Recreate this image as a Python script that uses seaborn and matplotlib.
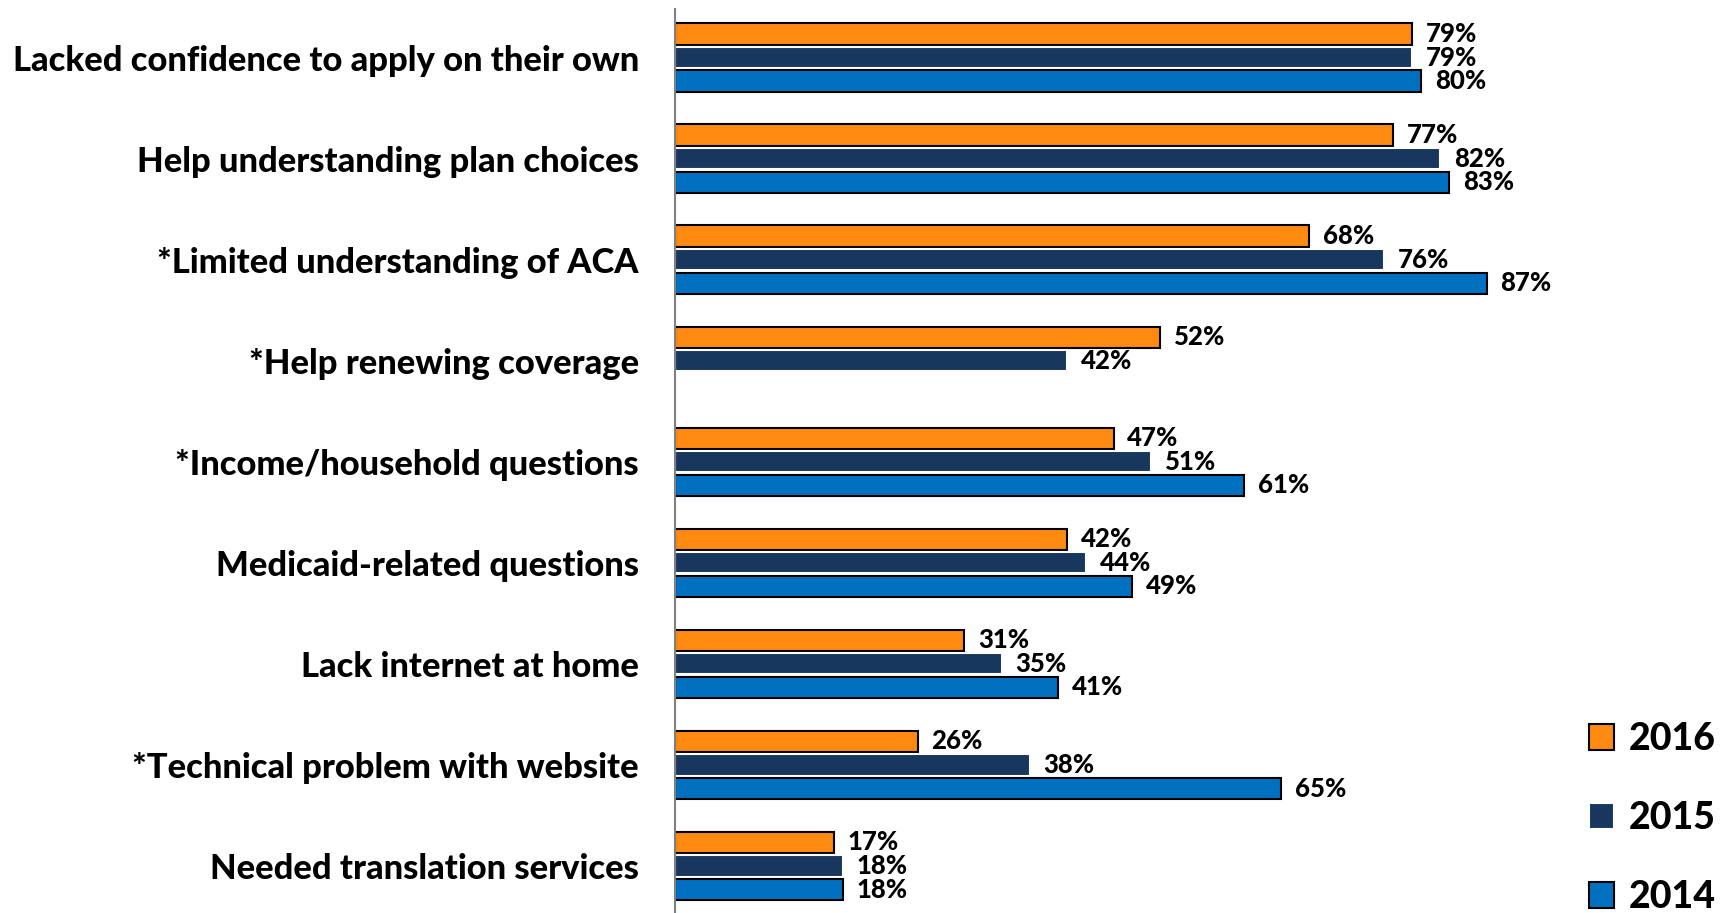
import numpy as np
import pandas as pd
import matplotlib
matplotlib.use("Agg")
import matplotlib.pyplot as plt
from matplotlib.patches import Patch
import seaborn as sns

categories = [
    "Lacked confidence to apply on their own",
    "Help understanding plan choices",
    "*Limited understanding of ACA",
    "*Help renewing coverage",
    "*Income/household questions",
    "Medicaid-related questions",
    "Lack internet at home",
    "*Technical problem with website",
    "Needed translation services",
]
years = ["2016", "2015", "2014"]
values_2016 = [79, 77, 68, 52, 47, 42, 31, 26, 17]
values_2015 = [79, 82, 76, 42, 51, 44, 35, 38, 18]
values_2014 = [80, 83, 87, np.nan, 61, 49, 41, 65, 18]

colors = {"2016": "#FF8A12", "2015": "#17375E", "2014": "#0070C0"}
edges = {"2016": "black", "2015": "white", "2014": "black"}

df = pd.DataFrame({
    "category": categories * 3,
    "year": ["2016"] * 9 + ["2015"] * 9 + ["2014"] * 9,
    "value": values_2016 + values_2015 + values_2014,
})

sns.set_style("white")
plt.rcParams["font.family"] = ["Lato", "DejaVu Sans"]
plt.rcParams["font.weight"] = "black"
plt.rcParams["text.color"] = "black"

fig = plt.figure(figsize=(17.36, 9.13), dpi=100)
ax = fig.add_axes([675 / 1736, 0, (1580 - 675) / 1736, 904 / 913])

sns.barplot(data=df, y="category", x="value", hue="year", order=categories,
            hue_order=years, palette=colors, saturation=1, orient="h",
            width=0.7, gap=0.1, legend=False, ax=ax)

for cont, yr in zip(ax.containers, years):
    for bar in cont:
        bar.set_edgecolor(edges[yr])
        bar.set_linewidth(1.5)
    labels = ["" if np.isnan(v) else f"{v:.0f}%" for v in cont.datavalues]
    ax.bar_label(cont, labels=labels, padding=10, fontsize=18.5, fontweight="black")

ax.set_xlim(0, (1580 - 675) / 9.33)
ax.set_ylim(8.465, -0.48)
ax.set_xlabel("")
ax.set_ylabel("")
ax.set_xticks([])
ax.tick_params(axis="y", length=0, pad=26, labelsize=24.8, labelcolor="black")
for lab in ax.get_yticklabels():
    lab.set_fontweight("black")
for s in ["top", "right", "bottom"]:
    ax.spines[s].set_visible(False)
ax.spines["left"].set_color("#808080")
ax.spines["left"].set_linewidth(1.5)

handles = [Patch(facecolor=colors[y], edgecolor=edges[y], linewidth=1.5, label=y) for y in years]
fig.legend(handles=handles, loc="lower right", bbox_to_anchor=(1.008, -0.038),
           frameon=False, handlelength=0.68, handleheight=0.68,
           handletextpad=0.4, labelspacing=1.2, prop={"size": 27, "weight": "black"})

fig.savefig("out.png", dpi=100)
